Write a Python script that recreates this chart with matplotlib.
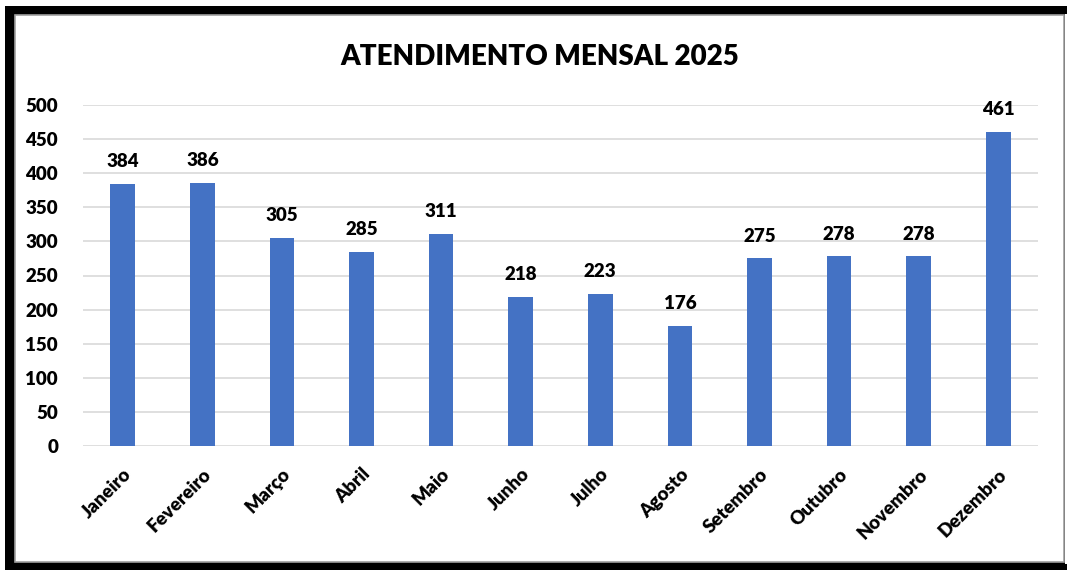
import matplotlib as mpl
mpl.use('Agg')
import matplotlib.pyplot as plt
from matplotlib.patches import Rectangle

meses = ['Janeiro', 'Fevereiro', 'Março', 'Abril', 'Maio', 'Junho', 'Julho',
         'Agosto', 'Setembro', 'Outubro', 'Novembro', 'Dezembro']
atendimentos = [384, 386, 305, 285, 311, 218, 223, 176, 275, 278, 278, 461]
yticks = [0, 50, 100, 150, 200, 250, 300, 350, 400, 450, 500]

plt.rcParams['font.family'] = ['Lato', 'DejaVu Sans']
plt.rcParams['font.weight'] = 'bold'

W, H = 1067, 570
fig = plt.figure(figsize=(W / 100, H / 100), dpi=100)

# moldura preta (recorte de tela)
fig.patches.append(Rectangle((5 / W, 0), 1, (H - 6) / H, transform=fig.transFigure,
                             facecolor='black', edgecolor='none', zorder=0))
fig.patches.append(Rectangle((15 / W, 8 / H), 1049 / W, 547 / H, transform=fig.transFigure,
                             facecolor='white', edgecolor='#a0a0a0', linewidth=1.2, zorder=1))
fig.patches.append(Rectangle((1064.5 / W, 6 / H), 3 / W, 550 / H, transform=fig.transFigure,
                             facecolor='white', edgecolor='none', zorder=1))

ax = fig.add_axes([83 / W, 1 - 446 / H, 955 / W, 341 / H])
ax.set_zorder(5)
ax.set_facecolor('none')
x = range(len(meses))
bars = ax.bar(x, atendimentos, width=0.31, color='#4472C4', zorder=3)
ax.bar_label(bars, padding=10, fontsize=13.5, fontweight='heavy')

ax.set_xlim(-0.5, len(meses) - 0.5)
ax.set_ylim(0, 500)
ax.set_yticks(yticks)
ax.grid(axis='y', color='#d9d9d9', linewidth=1.2, zorder=0)
for s in ax.spines.values():
    s.set_visible(False)
ax.tick_params(axis='both', length=0)
ax.tick_params(axis='y', pad=18)
for lbl in ax.get_yticklabels():
    lbl.set_fontsize(13.5)
    lbl.set_fontweight('heavy')
ax.set_xticks(list(x))
ax.set_xticklabels(meses, rotation=45, ha='right', rotation_mode='anchor',
                   fontsize=13.5, fontweight='heavy')
ax.tick_params(axis='x', pad=14)

fig.text(540 / W, 1 - 57 / H, 'ATENDIMENTO MENSAL 2025', ha='center', va='center',
         fontsize=20, fontweight='heavy', zorder=5)

plt.savefig('out.png', dpi=100)
